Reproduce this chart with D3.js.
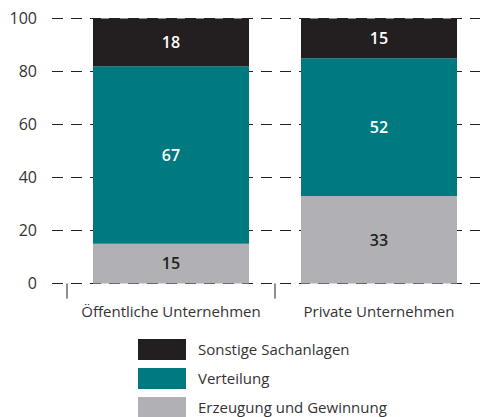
<!DOCTYPE html>
<html>
<head>
<meta charset="utf-8">
<script src="https://cdn.jsdelivr.net/npm/d3@7"></script>
<style>
  body { margin: 0; background: #fff; }
  svg { font-family: "Open Sans", "Noto Sans", sans-serif; }
</style>
</head>
<body>
<svg></svg>
<script>
let categories = ["Öffentliche Unternehmen", "Private Unternehmen"]
let seriesNames = ["Erzeugung und Gewinnung", "Verteilung", "Sonstige Sachanlagen"]
let erzeugung = [15, 33]
let verteilung = [67, 52]
let sonstige = [18, 15]
let yTicks = [0, 20, 40, 60, 80, 100]
let colors = ["#b1b1b5", "#007a80", "#231f20"]
let labelColors = ["#222", "#fff", "#fff"]

let width = 480
let height = 417

let svg = d3.select('svg')
  .attr('width', width)
  .attr('height', height)

let rows = categories.map((c, i) => ({
  cat: c,
  "Erzeugung und Gewinnung": erzeugung[i],
  "Verteilung": verteilung[i],
  "Sonstige Sachanlagen": sonstige[i]
}))

let stacked = d3.stack().keys(seriesNames)(rows)

let xScale = d3.scaleBand()
  .domain(categories)
  .range([67, 483])
  .paddingInner(0.25)
  .paddingOuter(0.125)

let yScale = d3.scaleLinear()
  .domain([0, 100])
  .range([283.5, 18.5])

// dashed grid lines
let yAxis = d3.axisLeft(yScale)
  .tickValues(yTicks)
  .tickSize(0)
  .tickPadding(0)

let gy = svg.append('g')
  .attr('transform', 'translate(37,0)')
  .call(yAxis)
gy.select('.domain').remove()
gy.selectAll('text')
  .attr('font-size', 16)
  .attr('fill', '#333')
  .attr('font-family', '"Open Sans", sans-serif')

svg.append('g')
  .selectAll('line')
  .data(yTicks)
  .enter()
  .append('line')
  .attr('x1', 52)
  .attr('x2', width)
  .attr('y1', d => yScale(d))
  .attr('y2', d => yScale(d))
  .attr('stroke', '#222')
  .attr('stroke-width', 1.2)
  .attr('stroke-dasharray', '11,8')

// bars
let layers = svg.append('g')
  .selectAll('g')
  .data(stacked)
  .enter()
  .append('g')
  .attr('fill', (d, i) => colors[i])

layers.selectAll('rect')
  .data(d => d)
  .enter()
  .append('rect')
  .attr('x', d => xScale(d.data.cat))
  .attr('width', xScale.bandwidth())
  .attr('y', d => yScale(d[1]))
  .attr('height', d => yScale(d[0]) - yScale(d[1]))

// value labels
stacked.forEach((layer, i) => {
  svg.append('g')
    .selectAll('text')
    .data(layer)
    .enter()
    .append('text')
    .attr('x', d => xScale(d.data.cat) + xScale.bandwidth() / 2)
    .attr('y', d => yScale((d[0] + d[1]) / 2))
    .attr('dy', '0.36em')
    .attr('text-anchor', 'middle')
    .attr('font-size', 16)
    .attr('font-weight', 600)
    .attr('fill', labelColors[i])
    .text(d => d[1] - d[0])
})

// x axis: ticks at band boundaries
let xTickPos = categories.map(c => xScale(c) - xScale.step() * xScale.paddingInner() / 2)
svg.append('g')
  .selectAll('line')
  .data(xTickPos)
  .enter()
  .append('line')
  .attr('x1', d => d)
  .attr('x2', d => d)
  .attr('y1', yScale(0))
  .attr('y2', yScale(0) + 15)
  .attr('stroke', '#444')
  .attr('stroke-width', 1.2)

svg.append('g')
  .selectAll('text')
  .data(categories)
  .enter()
  .append('text')
  .attr('x', d => xScale(d) + xScale.bandwidth() / 2)
  .attr('y', 317)
  .attr('text-anchor', 'middle')
  .attr('font-size', 15)
  .attr('fill', '#333')
  .text(d => d)

// legend
let legendOrder = [2, 1, 0]
let legend = svg.append('g')
  .selectAll('g')
  .data(legendOrder)
  .enter()
  .append('g')
  .attr('transform', (d, i) => 'translate(138,' + (339 + i * 29) + ')')

legend.append('rect')
  .attr('width', 48)
  .attr('height', 21)
  .attr('fill', d => colors[d])

legend.append('text')
  .attr('x', 60)
  .attr('y', 10.5)
  .attr('dy', '0.36em')
  .attr('font-size', 15)
  .attr('fill', '#333')
  .text(d => seriesNames[d])
</script>
</body>
</html>
